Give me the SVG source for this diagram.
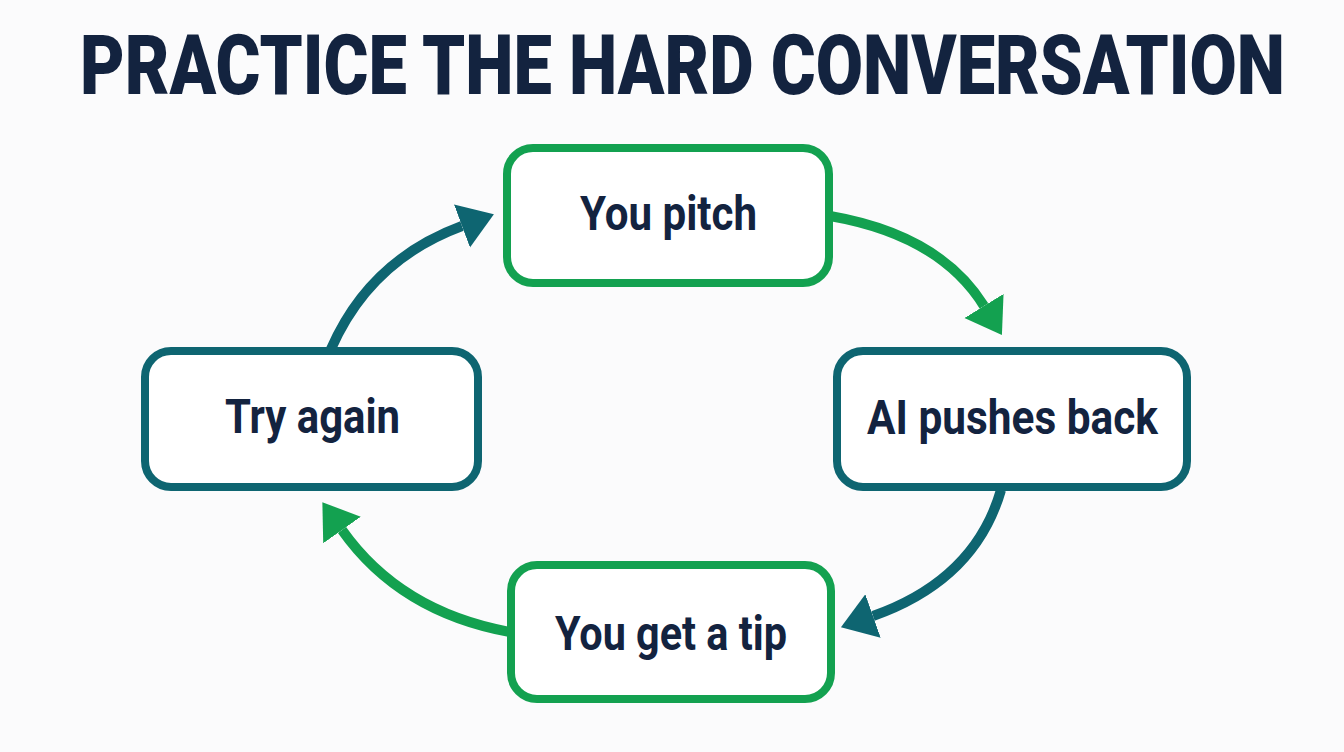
<svg xmlns="http://www.w3.org/2000/svg" width="1344" height="752" viewBox="0 0 1344 752">
<defs>
<style>
.title{font-family:Roboto,"Liberation Sans",sans-serif;font-weight:900;font-size:84px;fill:#13233f}
.lbl{font-family:Roboto,"Liberation Sans",sans-serif;font-weight:700;font-size:48px;fill:#13233f}
.bg{fill:#ffffff;stroke-width:8}
.green{stroke:#13a150}
.teal{stroke:#0e6571}
.arr{fill:none;stroke-width:10}
</style>
<marker id="hg" markerUnits="userSpaceOnUse" markerWidth="40" markerHeight="50" refX="0" refY="23" orient="auto" viewBox="0 0 40 50">
<path d="M0,0 L34,23 L0,46 Z" fill="#13a150"/>
</marker>
<marker id="ht" markerUnits="userSpaceOnUse" markerWidth="40" markerHeight="50" refX="0" refY="23" orient="auto" viewBox="0 0 40 50">
<path d="M0,0 L34,23 L0,46 Z" fill="#0e6571"/>
</marker>
</defs>
<rect width="1344" height="752" fill="#fbfbfc"/>
<text class="title" x="80" y="94" textLength="1205" lengthAdjust="spacingAndGlyphs">PRACTICE THE HARD CONVERSATION</text>
<g id="connectors">
<path class="arr green" d="M830 216 Q940 235 984 306" marker-end="url(#hg)"/>
<path class="arr teal" d="M1001 490 Q975 580 873 616" marker-end="url(#ht)"/>
<path class="arr green" d="M510 632 Q400 612 342 530" marker-end="url(#hg)"/>
<path class="arr teal" d="M331 349 Q370 260 462 226" marker-end="url(#ht)"/>
</g>
<g id="node-pitch">
<rect class="bg green" x="507" y="148" width="322" height="135" rx="26"/>
<text class="lbl" x="580" y="230" textLength="177" lengthAdjust="spacingAndGlyphs">You pitch</text>
</g>
<g id="node-pushback">
<rect class="bg teal" x="837" y="351" width="350" height="136" rx="26"/>
<text class="lbl" x="867" y="434" textLength="291" lengthAdjust="spacingAndGlyphs">AI pushes back</text>
</g>
<g id="node-tip">
<rect class="bg green" x="511" y="565" width="320" height="134" rx="26"/>
<text class="lbl" x="555" y="650" textLength="232" lengthAdjust="spacingAndGlyphs">You get a tip</text>
</g>
<g id="node-again">
<rect class="bg teal" x="145" y="351" width="333" height="136" rx="26"/>
<text class="lbl" x="225" y="433" textLength="175" lengthAdjust="spacingAndGlyphs">Try again</text>
</g>
</svg>
